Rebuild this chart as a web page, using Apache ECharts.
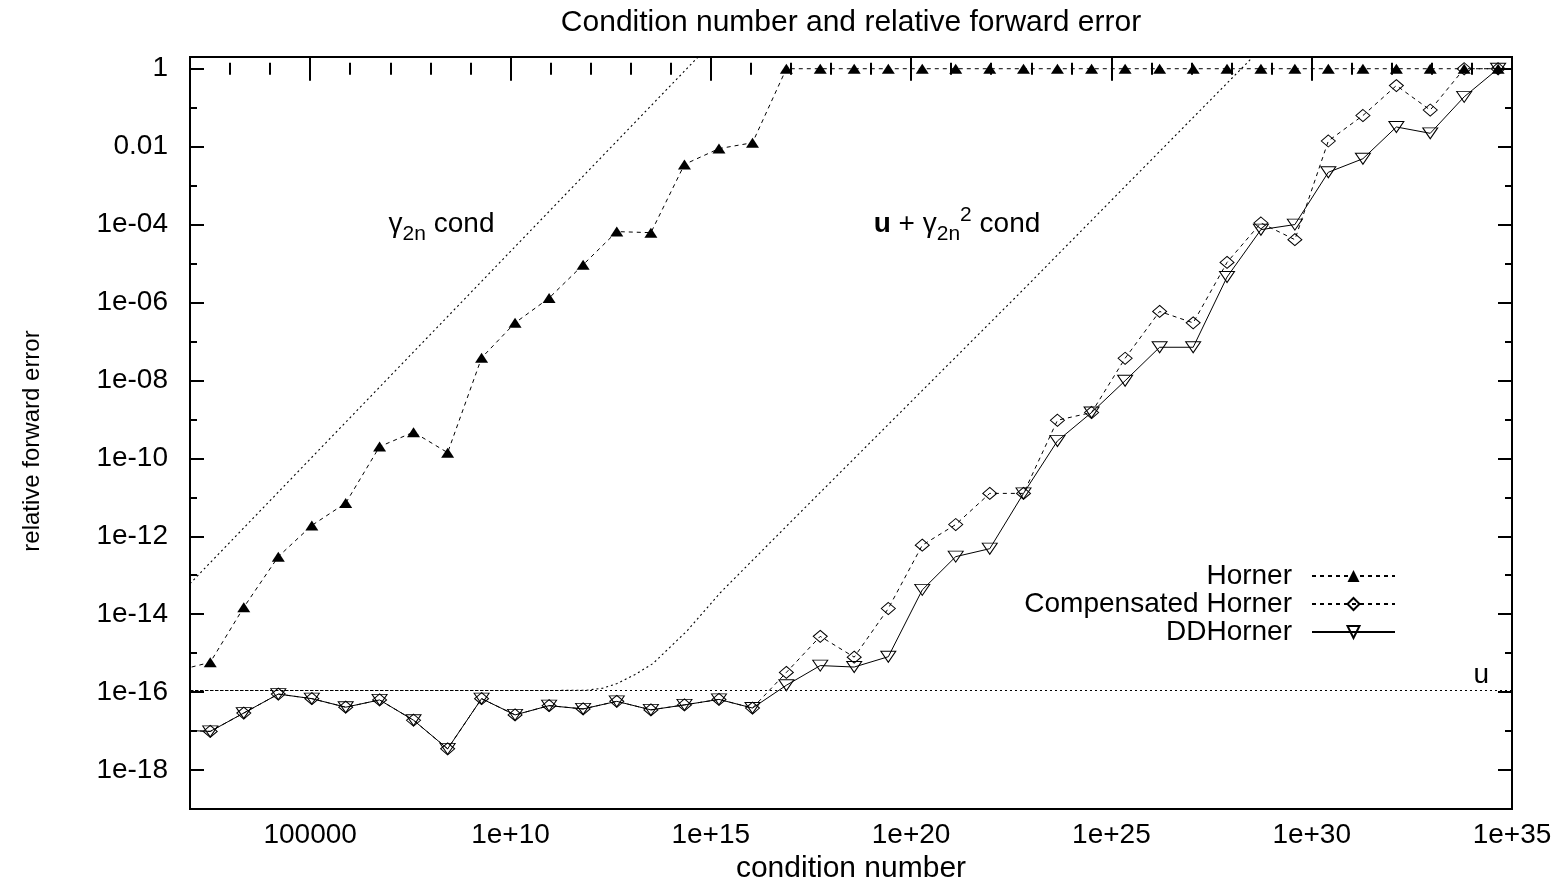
<!DOCTYPE html>
<html>
<head>
<meta charset="utf-8">
<title>Condition number and relative forward error</title>
<script src="https://cdn.jsdelivr.net/npm/echarts@6/dist/echarts.min.js"></script>
<style>
  html, body { margin: 0; padding: 0; background: #fff; }
  #chart { width: 1568px; height: 885px; }
</style>
</head>
<body>
<div id="chart"></div>
<script>
// condition number of each test polynomial (x)
const condNumber = [4.5e1, 3.2e2, 2.2e3, 1.6e4, 1.1e5, 7.7e5, 5.4e6, 3.8e7, 2.7e8, 1.9e9,
    1.3e10, 9.2e10, 6.5e11, 4.5e12, 3.2e13, 2.2e14, 1.6e15, 1.1e16, 7.7e16, 5.4e17,
    3.8e18, 2.7e19, 1.9e20, 1.3e21, 9.2e21, 6.4e22, 4.5e23, 3.2e24, 2.2e25, 1.6e26,
    1.1e27, 7.7e27, 5.4e28, 3.8e29, 2.6e30, 1.9e31, 1.3e32, 9.1e32, 6.4e33, 4.5e34];

// relative forward errors
const horner = [3.5e-16, 5.8e-16, 1.5e-14, 3.0e-13, 1.9e-12, 7.1e-12, 2.0e-10, 4.7e-10, 1.4e-10, 3.8e-8,
    3.0e-7, 1.3e-6, 9.3e-6, 6.6e-5, 6.2e-5, 3.5e-3, 8.9e-3, 1.26e-2, 1, 1,
    1, 1, 1, 1, 1, 1, 1, 1, 1, 1,
    1, 1, 1, 1, 1, 1, 1, 1, 1, 1];
const compHorner = [1.07e-17, 9.8e-18, 2.9e-17, 8.9e-17, 6.8e-17, 4.1e-17, 6.3e-17, 1.9e-17, 3.5e-18, 6.8e-17,
    2.6e-17, 4.5e-17, 3.7e-17, 5.8e-17, 3.5e-17, 4.7e-17, 6.5e-17, 3.9e-17, 3.2e-16, 2.7e-15,
    7.9e-16, 1.4e-14, 5.9e-13, 2.0e-12, 1.26e-11, 1.26e-11, 9.5e-10, 1.5e-9, 3.7e-8, 5.9e-7,
    3.0e-7, 1.07e-5, 1.1e-4, 4.1e-5, 1.4e-2, 6.3e-2, 0.37, 8.7e-2, 1, 1];
const ddHorner = [1.07e-17, 9.8e-18, 2.9e-17, 8.9e-17, 6.8e-17, 4.1e-17, 6.3e-17, 1.9e-17, 3.5e-18, 6.8e-17,
    2.6e-17, 4.5e-17, 3.7e-17, 5.8e-17, 3.5e-17, 4.7e-17, 6.5e-17, 3.9e-17, 1.5e-16, 4.8e-16,
    4.4e-16, 8.1e-16, 4.2e-14, 3.0e-13, 4.8e-13, 1.26e-11, 2.8e-10, 1.5e-9, 9.8e-9, 7.1e-8,
    7.1e-8, 4.5e-6, 7.4e-5, 1.0e-4, 2.2e-3, 4.9e-3, 3.2e-2, 2.2e-2, 0.19, 1];

// a priori bounds
const gammaCondX = [4.5e1, 1.6e15];
const gammaCondY = [2.6e-14, 7.2];
const uGammaCondX = [4.6e1, 1e11, 7.9e11, 2.0e12, 4.6e12, 1.26e13, 3.6e13, 2.6e14, 1.7e15, 1.1e17, 6.2e22, 3.4e28, 1e29];
const uGammaCondY = [1.1e-16, 1.1e-16, 1.12e-16, 1.26e-16, 1.66e-16, 2.8e-16, 5.4e-16, 3.8e-15, 3.5e-14, 2.6e-12, 2.1e-6, 2.0, 6.2];
const U = 1.1e-16;

// annotations (anchor in data units)
const annotX = [1.9e8, 1.4e21, 1.7e34];
const annotY = [1.0e-4, 1.0e-4, 2.75e-16];
const annotText = ['{t|γ}{s|2n}{t| cond}', '{b|u}{t| + γ}{s|2n}{p|2}{t| cond}', '{t|u}'];

// axes (powers of ten)
const X_MIN = 2, X_MAX = 35;
const Y_MIN = -19, Y_MAX = Math.log10(2);
const xTickExp = [5, 10, 15, 20, 25, 30, 35];
const xTickLabels = ['100000', '1e+10', '1e+15', '1e+20', '1e+25', '1e+30', '1e+35'];
const xMinorExp = [3, 4, 6, 7, 8, 9, 11, 12, 13, 14, 16, 17, 18, 19, 21, 22, 23, 24, 26, 27, 28, 29, 31, 32, 33, 34];
const yTickExp = [0, -2, -4, -6, -8, -10, -12, -14, -16, -18];
const yTickLabels = ['1', '0.01', '1e-04', '1e-06', '1e-08', '1e-10', '1e-12', '1e-14', '1e-16', '1e-18'];
const yMinorExp = [-1, -3, -5, -7, -9, -11, -13, -15, -17];

const FONT = 'Liberation Sans, Arial, Helvetica, sans-serif';

const toLog = (xs, ys) => xs.map((x, i) => [Math.log10(x), Math.log10(ys[i])]);

function xAxisDef(position, ticks, len, labels) {
    return {
        type: 'value', position: position, min: X_MIN, max: X_MAX,
        axisLine: { show: false },
        splitLine: { show: false },
        axisTick: { show: true, inside: true, length: len, customValues: ticks,
            lineStyle: { color: '#000', width: 2 } },
        axisLabel: labels ? {
            show: true, customValues: ticks, margin: 12, color: '#000',
            fontSize: 28, fontFamily: FONT,
            formatter: v => xTickLabels[xTickExp.indexOf(Math.round(v))]
        } : { show: false }
    };
}

function yAxisDef(position, ticks, len, labels) {
    return {
        type: 'value', position: position, min: Y_MIN, max: Y_MAX,
        axisLine: { show: false },
        splitLine: { show: false },
        axisTick: { show: true, inside: true, length: len, customValues: ticks,
            lineStyle: { color: '#000', width: 2 } },
        axisLabel: labels ? {
            show: true, customValues: ticks, margin: 22, color: '#000',
            fontSize: 28, fontFamily: FONT,
            formatter: v => yTickLabels[yTickExp.indexOf(Math.round(v))]
        } : { show: false }
    };
}

const xAxes = [
    xAxisDef('bottom', xTickExp, 12, true),
    xAxisDef('bottom', xMinorExp, 6, false),
    xAxisDef('top', xTickExp, 12, false),
    xAxisDef('top', xMinorExp, 6, false)
];
xAxes[0].name = 'condition number';
xAxes[0].nameLocation = 'middle';
xAxes[0].nameGap = 42;
xAxes[0].nameTextStyle = { color: '#000', fontSize: 30, fontFamily: FONT };

const yAxes = [
    yAxisDef('left', yTickExp, 14, true),
    yAxisDef('left', yMinorExp, 7, false),
    yAxisDef('right', yTickExp, 14, false),
    yAxisDef('right', yMinorExp, 7, false)
];
yAxes[0].name = 'relative forward error';
yAxes[0].nameLocation = 'middle';
yAxes[0].nameRotate = 90;
yAxes[0].nameGap = 146;
yAxes[0].nameTextStyle = { color: '#000', fontSize: 24, fontFamily: FONT, padding: [0, 16, 0, 0] };

const dotted = { color: '#000', width: 1.1, type: [2, 3] };
const dashed = { color: '#000', width: 1, type: [4, 4] };

const chart = echarts.init(document.getElementById('chart'));
chart.setOption({
    animation: false,
    backgroundColor: '#fff',
    title: {
        text: 'Condition number and relative forward error',
        left: 846, top: 3, textAlign: 'center',
        textStyle: { color: '#000', fontSize: 30, fontWeight: 'normal', fontFamily: FONT }
    },
    grid: {
        left: 190, right: 56, top: 57, bottom: 76,
        outerBoundsMode: 'none',
        show: true, borderColor: '#000', borderWidth: 2, backgroundColor: 'transparent'
    },
    legend: {
        data: ['Horner', 'Compensated Horner', 'DDHorner'],
        orient: 'vertical', align: 'right',
        right: 167, top: 557,
        itemWidth: 83, itemHeight: 15, itemGap: 0,
        textStyle: { color: '#000', fontSize: 28, fontFamily: FONT, lineHeight: 25, padding: [0, 15, 0, 0] }
    },
    xAxis: xAxes,
    yAxis: yAxes,
    series: [
        {
            name: 'gamma cond', type: 'line', symbol: 'none', silent: true,
            data: toLog(gammaCondX, gammaCondY),
            lineStyle: dotted, z: 1
        },
        {
            name: 'u + gamma^2 cond', type: 'line', symbol: 'none', silent: true,
            data: toLog(uGammaCondX, uGammaCondY),
            lineStyle: dotted, z: 1,
            markLine: {
                silent: true, symbol: ['none', 'none'], label: { show: false },
                lineStyle: dotted,
                data: [{ yAxis: Math.log10(U) }]
            }
        },
        {
            name: 'Horner', type: 'line',
            data: toLog(condNumber, horner),
            symbol: 'triangle', symbolSize: [13, 10],
            itemStyle: { color: '#000' },
            lineStyle: dashed, z: 3
        },
        {
            name: 'Compensated Horner', type: 'line',
            data: toLog(condNumber, compHorner),
            symbol: 'path://M0,-10L10,0L0,10L-10,0Z', symbolSize: [14, 12],
            itemStyle: { color: 'rgba(0,0,0,0)', borderColor: '#000', borderWidth: 1 },
            lineStyle: dashed, z: 3
        },
        {
            name: 'DDHorner', type: 'line',
            data: toLog(condNumber, ddHorner),
            symbol: 'path://M-10,-10L10,-10L0,10Z', symbolSize: [15, 11],
            itemStyle: { color: 'rgba(0,0,0,0)', borderColor: '#000', borderWidth: 1 },
            lineStyle: { color: '#000', width: 1 }, z: 3
        },
        {
            name: 'annotations', type: 'scatter', silent: true,
            symbolSize: 1, itemStyle: { color: 'rgba(0,0,0,0)', opacity: 1 },
            data: toLog(annotX, annotY).map((p, i) => ({ value: p, text: annotText[i] })),
            label: {
                show: true, position: 'inside',
                formatter: p => p.data.text,
                color: '#000', fontFamily: FONT,
                rich: {
                    t: { fontSize: 28, lineHeight: 40, verticalAlign: 'middle', fontFamily: FONT, color: '#000' },
                    b: { fontSize: 28, lineHeight: 40, verticalAlign: 'middle', fontWeight: 'bold', fontFamily: FONT, color: '#000' },
                    s: { fontSize: 21, lineHeight: 20, verticalAlign: 'bottom', fontFamily: FONT, color: '#000' },
                    p: { fontSize: 21, lineHeight: 20, verticalAlign: 'top', fontFamily: FONT, color: '#000' }
                }
            },
            z: 4
        }
    ]
});
</script>
</body>
</html>
